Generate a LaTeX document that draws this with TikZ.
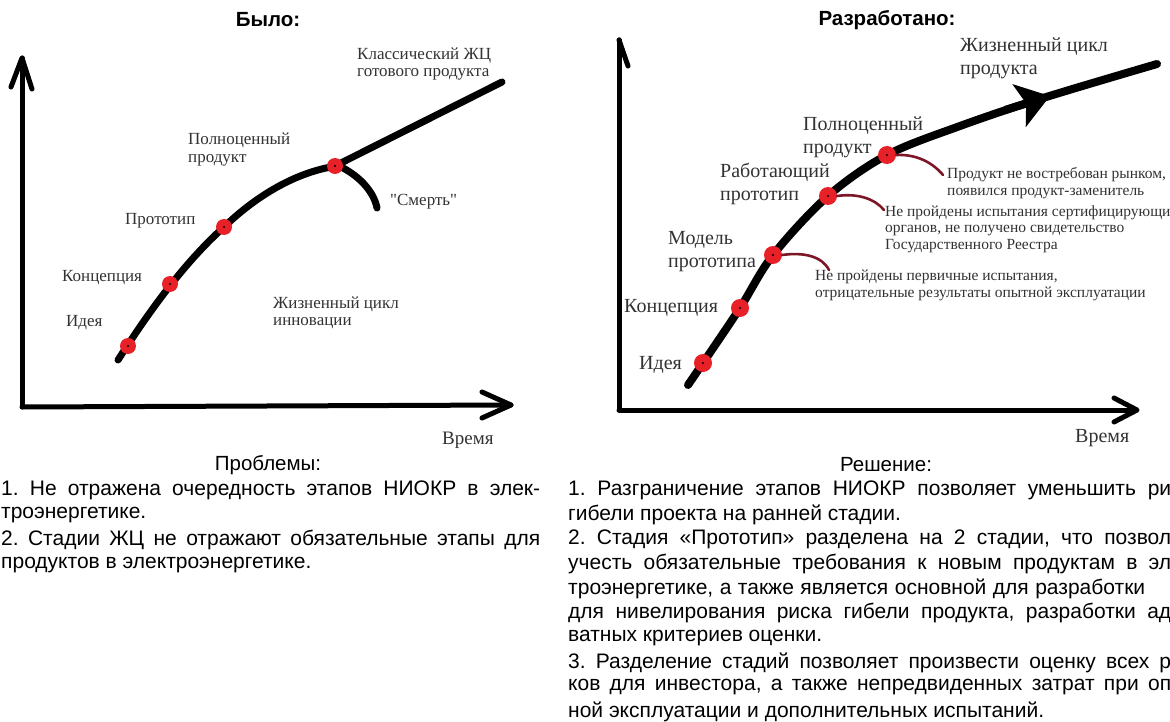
\documentclass[tikz,border=0pt]{standalone}
\usepackage{fontspec}
\setmainfont{Liberation Serif}
\newfontfamily\arial{Liberation Sans}
\usetikzlibrary{arrows.meta}
\definecolor{dotred}{RGB}{232,32,40}
\definecolor{hookred}{RGB}{125,22,38}
\definecolor{lbl}{RGB}{50,50,50}
\newcommand{\dq}{\XeTeXglyph\XeTeXcharglyph"22\relax}
\frenchspacing
\begin{document}
\begin{tikzpicture}[x=1pt,y=-1pt,
  axis/.style={line width=5pt,line cap=round,line join=round},
  lifecurve/.style={line width=7pt,line cap=round},
  stageL/.style={circle,fill=dotred,minimum size=16pt,inner sep=0pt,
    path picture={\fill[black] (path picture bounding box.center) circle (1.2pt);}},
  stageR/.style={stageL,minimum size=18pt},
  hook/.style={draw=hookred,line width=2.6pt,line cap=round},
  lblL/.style={font=\fontsize{17}{17.5}\selectfont,text=lbl,inner sep=0pt,anchor=west,align=left},
  lblR/.style={font=\fontsize{20}{23}\selectfont,text=lbl,inner sep=0pt,anchor=west,align=left},
  ann/.style={font=\fontsize{15.5}{16.5}\selectfont,text=lbl,inner sep=0pt,anchor=west,align=left},
  ttl/.style={font=\arial\bfseries\fontsize{20.5}{24}\selectfont,inner sep=0pt},
  body/.style={font=\arial\fontsize{21}{25}\selectfont\frenchspacing,inner sep=0pt,anchor=west},
]
\useasboundingbox (0,0) rectangle (1170,722);
\clip (0,0) rectangle (1170,722);

% ---------------- titles ----------------
\node[ttl] (t1) at (268,20) {Было:};
\node[ttl] (t2) at (887,20) {Разработано:};

% ---------------- left chart ----------------
\draw[axis] (22,407) -- (22,58);
\draw[axis] (11,87) -- (22,58) -- (32,89);
\draw[axis] (22,407) -- (511,405);
\draw[axis] (482,392) -- (511,405) -- (482,418);

\draw[lifecurve] (118,360) .. controls (150,310) and (185,262) .. (224,227)
  .. controls (255,197) and (295,172) .. (337,166);
\draw[lifecurve] (333,167) -- (502,82);
\draw[lifecurve] (343,168) .. controls (360,177) and (374,192) .. (377,208);

\node[stageL] (l1) at (128,346) {};
\node[stageL] (l2) at (170,284) {};
\node[stageL] (l3) at (224,227) {};
\node[stageL] (l4) at (335,166) {};

\node[lblL] (la) at (66,323) {Идея};
\node[lblL] (lb) at (62,278) {Концепция};
\node[lblL] (lc) at (125,221) {Прототип};
\node[lblL] (ld) at (188,149.5) {Полноценный\\продукт};
\node[lblL] (le) at (390,202) {\dq Смерть\dq};
\node[lblL] (lf) at (273,313) {Жизненный цикл\\инновации};
\node[lblL] (lg) at (357,64) {Классический ЖЦ\\готового продукта};
\node[lblL,font=\fontsize{19}{20}\selectfont] (lh) at (442,440) {Время};

% ---------------- right chart ----------------
\draw[axis] (619,410) -- (619,40);
\draw[axis] (619,40) -- (628,66);
\draw[axis] (619,410) -- (1136,410);
\draw[axis] (1114,398) -- (1137,410) -- (1114,422);

\draw[lifecurve,line width=8pt] plot[smooth,tension=0.55] coordinates
  {(688,385) (703,363) (740,308) (773,255) (828,196) (887,155) (960,126) (1043,98) (1157,64)};
\draw[line width=8pt,-{Stealth[length=32pt,width=44pt,inset=7pt]}] (1005,110) -- (1050,96);

\node[stageR] (r1) at (703,363) {};
\node[stageR] (r2) at (740,308) {};
\node[stageR] (r3) at (773,255) {};
\node[stageR] (r4) at (828,196) {};
\node[stageR] (r5) at (887,155) {};

\node[lblR] (ra) at (639,365) {Идея};
\node[lblR] (rb) at (624,308) {Концепция};
\node[lblR] (rc) at (668,252) {Модель\\прототипа};
\node[lblR] (rd) at (720,184) {Работающий\\прототип};
\node[lblR] (re) at (803,137) {Полноценный\\продукт};
\node[lblR] (rf) at (960,58) {Жизненный цикл\\продукта};
\node[lblR] (rg) at (1075,438) {Время};

\node[ann] (a1) at (947,183) {Продукт не востребован рынком,\\появился продукт-заменитель};
\node[ann] (a2) at (885,229) {Не пройдены испытания сертифицирующи\\органов, не получено свидетельство\\Государственного Реестра};
\node[ann] (a3) at (815,285.5) {Не пройдены первичные испытания,\\отрицательные результаты опытной эксплуатации};

\coordinate (h1) at (829,270);
\coordinate (h2) at (884,210);
\coordinate (h3) at (943,175);
\draw[hook] (r3.east) .. controls (803,252) and (822,256) .. (h1);
\draw[hook] (r4.east) .. controls (858,193) and (875,199) .. (h2);
\draw[hook] (r5.east) .. controls (917,154) and (933,163) .. (h3);

% ---------------- bottom text, left ----------------
\node[ttl,font=\arial\fontsize{20.5}{24}\selectfont] (p0) at (268,465) {Проблемы:};
\node[body] (p1) at (1,490) {\makebox[539pt][s]{1. Не отражена очередность этапов НИОКР в элек-}};
\node[body] (p2) at (1,515) {троэнергетике.};
\node[body] (p3) at (1,540) {\makebox[539pt][s]{2. Стадии ЖЦ не отражают обязательные этапы для}};
\node[body] (p4) at (1,565) {продуктов в электроэнергетике.};

% ---------------- bottom text, right ----------------
\node[ttl,font=\arial\fontsize{20.5}{24}\selectfont] (s0) at (886,465) {Решение:};
\node[body] (s1) at (568,490) {\makebox[603pt][s]{1. Разграничение этапов НИОКР позволяет уменьшить ри}};
\node[body] (s2) at (568,514.6) {гибели проекта на ранней стадии.};
\node[body] (s3) at (568,539.3) {\makebox[603pt][s]{2. Стадия «Прототип» разделена на 2 стадии, что позвол}};
\node[body] (s4) at (568,564) {\makebox[603pt][s]{учесть обязательные требования к новым продуктам в эл}};
\node[body] (s5) at (568,588.6) {\makebox[577pt][s]{троэнергетике, а также является основной для разработки}};
\node[body] (s6) at (568,613.3) {\makebox[603pt][s]{для нивелирования риска гибели продукта, разработки ад}};
\node[body] (s7) at (568,638) {ватных критериев оценки.};
\node[body] (s8) at (568,662.6) {\makebox[603pt][s]{3. Разделение стадий позволяет произвести оценку всех р}};
\node[body] (s9) at (568,687.3) {\makebox[603pt][s]{ков для инвестора, а также непредвиденных затрат при оп}};
\node[body] (s10) at (568,711.5) {ной эксплуатации и дополнительных испытаний.};
\end{tikzpicture}
\end{document}
